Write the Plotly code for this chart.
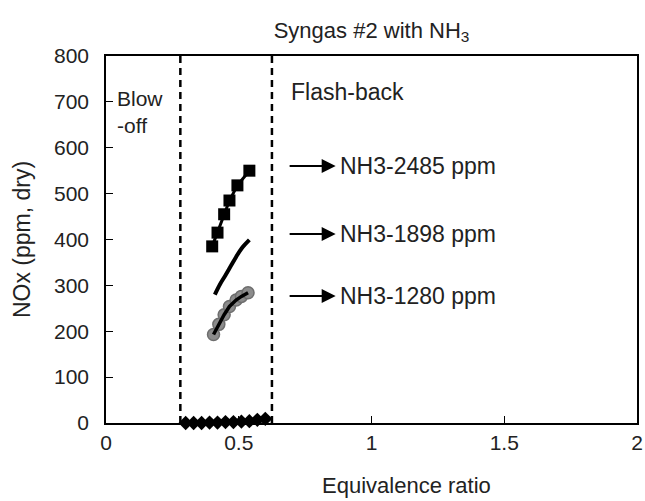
import plotly.graph_objects as go

# Data
x_2485 = [0.40, 0.42, 0.445, 0.465, 0.495, 0.54]
y_2485 = [385, 415, 455, 485, 518, 550]

x_1898 = [0.41, 0.43, 0.45, 0.47, 0.49, 0.51, 0.54]
y_1898 = [280, 303, 322, 342, 362, 380, 399]

x_1280 = [0.405, 0.425, 0.445, 0.465, 0.49, 0.51, 0.535]
y_1280 = [193, 215, 236, 254, 268, 276, 284]

x_base = [0.30, 0.33, 0.36, 0.39, 0.42, 0.45, 0.48, 0.51, 0.54, 0.57, 0.60]
y_base = [0, 0, 0, 1, 1, 2, 2, 3, 4, 7, 9]

blowoff_x = 0.28
flashback_x = 0.625

labels = ["NH3-2485 ppm", "NH3-1898 ppm", "NH3-1280 ppm"]
label_y = [560, 412, 277]

FONT = "Liberation Sans"
TXT = "#222222"

fig = go.Figure()
fig.add_trace(go.Scatter(x=x_2485, y=y_2485, mode="lines+markers",
                         line=dict(color="black", width=3),
                         marker=dict(symbol="square", size=12, color="black"),
                         showlegend=False))
fig.add_trace(go.Scatter(x=x_1898, y=y_1898, mode="lines",
                         line=dict(color="black", width=4, shape="spline"),
                         showlegend=False))
fig.add_trace(go.Scatter(x=x_1280, y=y_1280, mode="markers",
                         marker=dict(symbol="circle", size=12, color="#8c8c8c",
                                     line=dict(color="#6e6e6e", width=1.5)),
                         showlegend=False))
fig.add_trace(go.Scatter(x=x_1280, y=y_1280, mode="lines",
                         line=dict(color="black", width=3.5),
                         showlegend=False))
fig.add_trace(go.Scatter(x=x_base, y=y_base, mode="lines+markers",
                         line=dict(color="black", width=3),
                         marker=dict(symbol="diamond", size=11, color="black"),
                         showlegend=False, cliponaxis=False))

for xv in (blowoff_x, flashback_x):
    fig.add_shape(type="line", x0=xv, x1=xv, y0=0, y1=800, xref="x", yref="y",
                  line=dict(color="black", width=2.5, dash="7px,5px"))

fig.add_annotation(x=0.035, y=677, xref="x", yref="y", text="Blow<br>-off",
                   showarrow=False, xanchor="left", yanchor="middle", align="left",
                   font=dict(family=FONT, size=21, color=TXT))
fig.add_annotation(x=0.69, y=721, xref="x", yref="y", text="Flash-back",
                   showarrow=False, xanchor="left", yanchor="middle",
                   font=dict(family=FONT, size=23, color=TXT))

for lab, ly in zip(labels, label_y):
    fig.add_annotation(x=0.865, y=ly, ax=0.686, ay=ly, xref="x", yref="y",
                       axref="x", ayref="y", text="", showarrow=True,
                       arrowhead=2, arrowsize=1.4, arrowwidth=2, arrowcolor="black")
    fig.add_annotation(x=0.875, y=ly, xref="x", yref="y", text=lab,
                       showarrow=False, xanchor="left", yanchor="middle",
                       font=dict(family=FONT, size=23, color=TXT))

# x-axis title (placed right of centre as in the original)
fig.add_annotation(x=1.13, y=-0.169, xref="x", yref="paper", text="Equivalence ratio",
                   showarrow=False, xanchor="center", yanchor="middle",
                   font=dict(family=FONT, size=22, color=TXT))

fig.update_layout(
    width=645, height=501,
    margin=dict(l=106, r=8, t=56, b=78),
    plot_bgcolor="white", paper_bgcolor="white",
    title=dict(text="Syngas #2 with NH<sub>3</sub>", x=0.576, xanchor="center",
               y=0.94, yanchor="middle",
               font=dict(family=FONT, size=22, color=TXT)),
    font=dict(family=FONT, color=TXT),
)
fig.update_xaxes(range=[0, 2], tickvals=[0, 0.5, 1, 1.5, 2],
                 ticktext=["0", "0.5", "1", "1.5", "2"],
                 showgrid=False, zeroline=False, showline=True, linecolor="black",
                 linewidth=1.5, mirror=True, ticks="inside", ticklen=7,
                 tickcolor="black", tickfont=dict(family=FONT, size=21, color=TXT),
                 automargin=False)
fig.update_yaxes(range=[0, 800], dtick=100,
                 showgrid=False, zeroline=False, showline=True, linecolor="black",
                 linewidth=1.5, mirror=True, ticks="inside", ticklen=7,
                 tickcolor="black", tickfont=dict(family=FONT, size=21, color=TXT),
                 ticklabelstandoff=11, automargin=False,
                 title=dict(text="NOx (ppm, dry)", font=dict(family=FONT, size=23, color=TXT),
                            standoff=17))

fig.write_html("out.html", config={"displayModeBar": False},
               post_script="document.body.style.margin='0';")
